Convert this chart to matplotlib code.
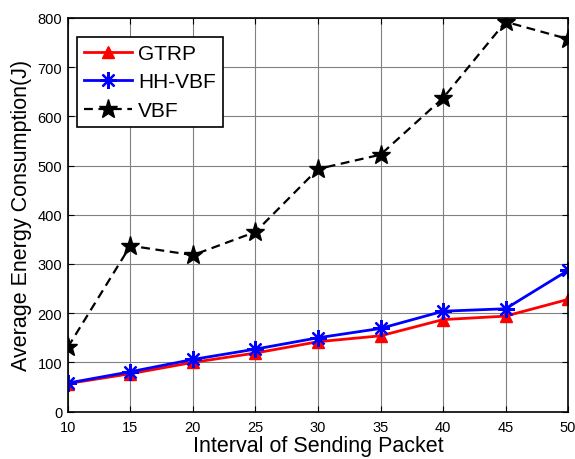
import matplotlib
matplotlib.use("Agg")
import matplotlib.pyplot as plt

plt.rcParams['font.family'] = ['Liberation Sans', 'DejaVu Sans']

x = [10, 15, 20, 25, 30, 35, 40, 45, 50]
gtrp = [57, 77, 100, 119, 142, 154, 187, 194, 228]
hhvbf = [58, 81, 106, 127, 150, 169, 204, 209, 287]
vbf = [131, 337, 318, 365, 493, 522, 637, 792, 757]
labels = ['GTRP', 'HH-VBF', 'VBF']

fig = plt.figure(figsize=(5.75, 4.6), dpi=100)
ax = fig.add_axes([0.118, 0.103, 0.870, 0.856])

ax.plot(x, gtrp, color='red', lw=2, marker='^', ms=9, label=labels[0])
ax.plot(x, hhvbf, color='blue', lw=2, marker=(8, 2, 0), ms=12, mew=1.6,
        markerfacecolor='blue', label=labels[1])
ax.plot(x, vbf, color='black', lw=1.6, ls=(0, (4, 2.5)), marker='*', ms=14,
        label=labels[2])

ax.set_xlim(10, 50)
ax.set_ylim(0, 800)
ax.set_xticks(range(10, 51, 5))
ax.set_yticks(range(0, 801, 100))
ax.grid(True, color='#808080', lw=0.8)
ax.tick_params(direction='in', labelsize=10.5, top=True, right=True, length=4)
ax.tick_params(axis='x', pad=6)
ax.tick_params(axis='y', pad=4)
for s in ax.spines.values():
    s.set_linewidth(1.2)
ax.set_xlabel('Interval of Sending Packet', fontsize=15.5, labelpad=1)
ax.set_ylabel('Average Energy Consumption(J)', fontsize=15.5, labelpad=4)
leg = ax.legend(loc='upper left', bbox_to_anchor=(0.018, 0.952), fontsize=15,
                fancybox=False, edgecolor='black', framealpha=1,
                handlelength=2.3, borderpad=0.35, labelspacing=0.45,
                handletextpad=0.3, borderaxespad=0)
leg.get_frame().set_linewidth(1.2)

fig.savefig('out.png', dpi=100)
